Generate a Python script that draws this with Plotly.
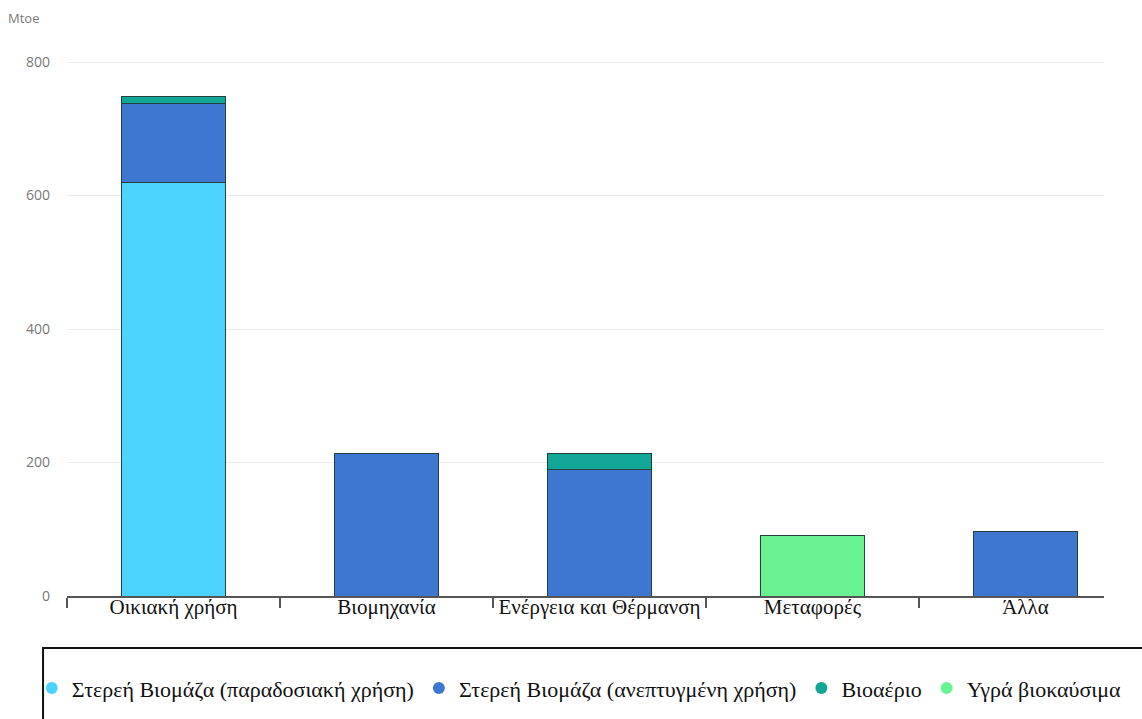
import plotly.graph_objects as go

# Final biomass consumption by sector (Mtoe)
categories = ["Οικιακή χρήση", "Βιομηχανία", "Ενέργεια και Θέρμανση", "Μεταφορές", "Άλλα"]
solid_traditional = [620, None, None, None, None]
solid_modern = [118, 213, 190, None, 96]
biogas = [10, None, 24, None, None]
liquid_biofuels = [None, None, None, 90, None]

series_names = [
    "Στερεή Βιομάζα (παραδοσιακή χρήση)",
    "Στερεή Βιομάζα (ανεπτυγμένη χρήση)",
    "Βιοαέριο",
    "Υγρά βιοκαύσιμα",
]
series_values = [solid_traditional, solid_modern, biogas, liquid_biofuels]
series_colors = ["#4BD3FD", "#3D77D1", "#12A697", "#69F291"]

y_ticks = [0, 200, 400, 600, 800]

fig = go.Figure()
for name, vals, col in zip(series_names, series_values, series_colors):
    fig.add_trace(go.Bar(
        x=categories,
        y=vals,
        name=name,
        legendgroup=name,
        showlegend=False,
        width=0.49,
        marker=dict(color=col, line=dict(color="#23403f", width=1)),
    ))

# Round legend keys for each series (no visible points)
for name, col in zip(series_names, series_colors):
    fig.add_trace(go.Scatter(
        x=[categories[0]],
        y=[None],
        mode="markers",
        name=name,
        legendgroup=name,
        marker=dict(color=col, size=12, symbol="circle"),
        hoverinfo="skip",
    ))

serif = "Liberation Serif, Times New Roman, serif"
sans = "Open Sans, Noto Sans, sans-serif"

fig.update_layout(
    barmode="stack",
    width=1142,
    height=719,
    margin=dict(l=67, r=38, t=40, b=123, autoexpand=False),
    paper_bgcolor="white",
    plot_bgcolor="white",
    showlegend=True,
    legend=dict(
        orientation="h",
        x=-0.034, xanchor="left",
        y=-0.128, yanchor="top",
        font=dict(family=serif, size=22, color="#111"),
        itemwidth=30,
        traceorder="normal",
        bgcolor="rgba(0,0,0,0)",
    ),
    xaxis=dict(
        range=[-0.5, 4.369],
        showline=True,
        linecolor="#555",
        linewidth=1.5,
        ticks="outside",
        tickson="boundaries",
        ticklen=10,
        tickcolor="#555",
        tickwidth=1.5,
        ticklabelstandoff=-9,
        tickfont=dict(family=serif, size=21, color="#111"),
        showgrid=False,
    ),
    yaxis=dict(
        range=[0, 833],
        tickvals=y_ticks,
        showgrid=True,
        gridcolor="#ebebeb",
        gridwidth=1,
        zeroline=False,
        showline=False,
        ticks="",
        ticklabelstandoff=16,
        tickfont=dict(family=sans, size=14, color="#777"),
    ),
    annotations=[
        dict(
            text="Mtoe", xref="paper", yref="paper",
            x=-0.059, y=1.0396, xanchor="left", yanchor="middle",
            showarrow=False, font=dict(family=sans, size=13, color="#777"),
        )
    ],
    shapes=[
        dict(
            type="rect", xref="paper", yref="paper",
            x0=-0.0231, x1=1.06, y0=-0.0935, y1=-0.26,
            line=dict(color="#111", width=2),
            fillcolor="rgba(0,0,0,0)",
            layer="below",
        )
    ],
)

fig.write_html("out.html")
